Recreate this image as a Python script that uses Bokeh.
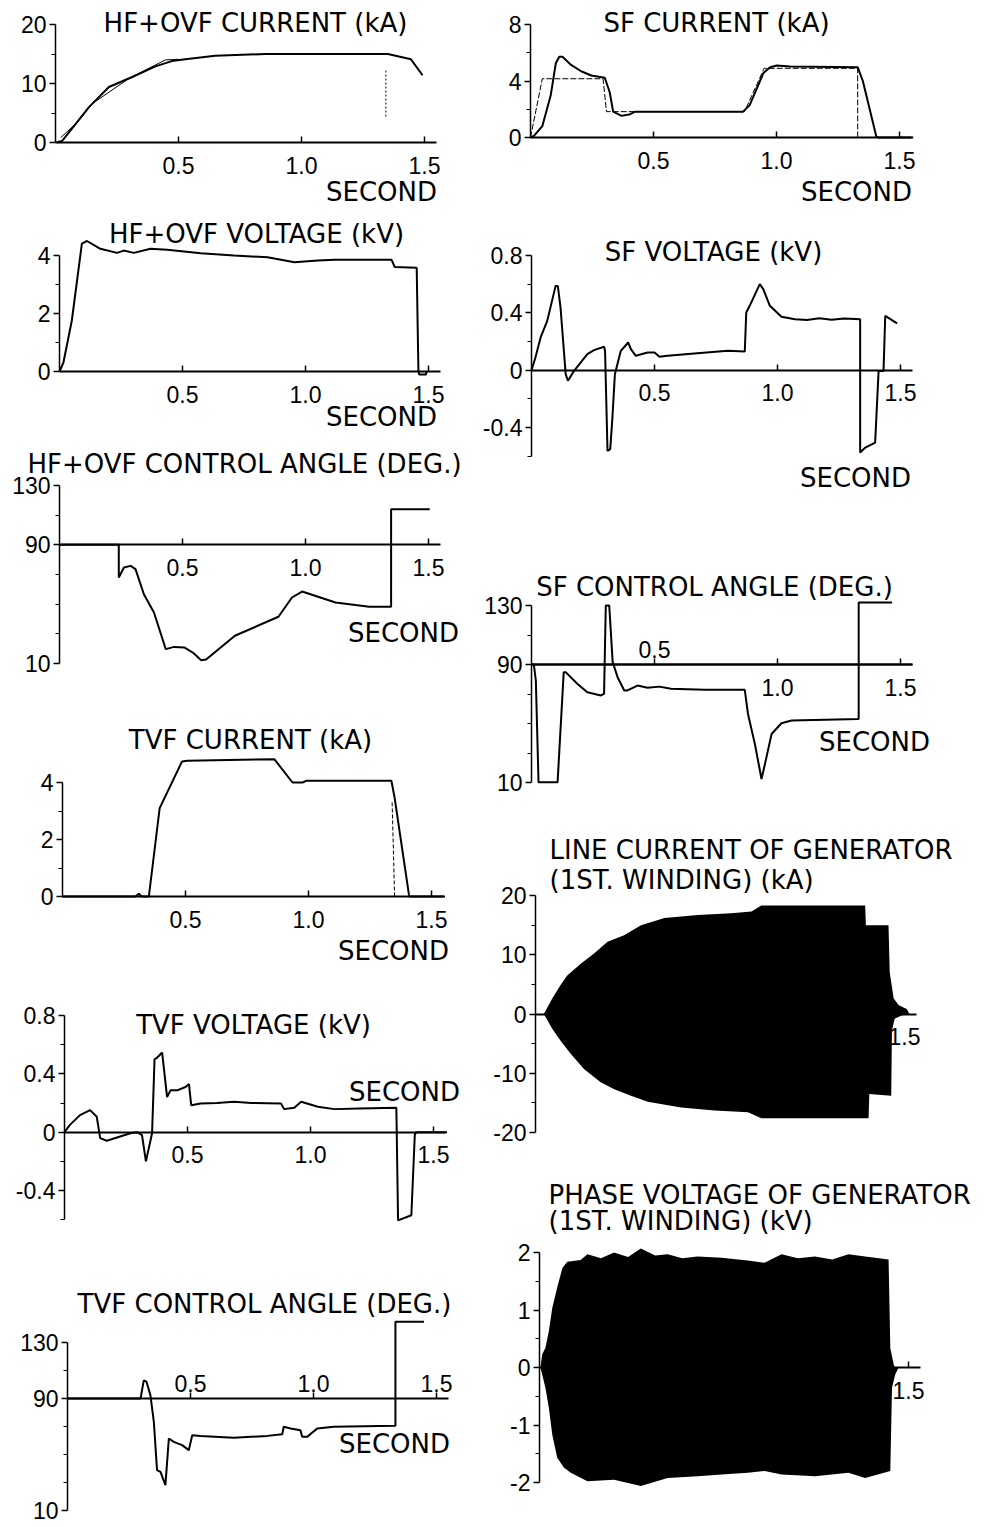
from bokeh.plotting import figure
from bokeh.layouts import row, column
from bokeh.models import Range1d, LinearAxis, FixedTicker, Label, NumeralTickFormatter
from bokeh.embed import file_html
from bokeh.resources import INLINE

# ---------------- data (time in s) ----------------
hf_current = [(0.005, 0.0), (0.028, 0.3), (0.083, 3.2), (0.136, 6.0), (0.217, 9.4), (0.312, 11.1),
              (0.406, 12.9), (0.473, 13.8), (0.528, 14.1), (0.649, 14.7), (0.852, 15.0), (1.12, 15.0),
              (1.351, 15.0), (1.445, 14.1), (1.492, 11.4)]
hf_current_ref = [(0.022, 0.86), (0.089, 3.43), (0.15, 6.6), (0.3, 10.9), (0.447, 14.0), (0.5, 14.1)]
hf_current_mark = [(1.343, 4.4), (1.343, 12.4)]

hf_voltage = [(0.0, 0.0), (0.016, 0.31), (0.05, 1.75), (0.091, 4.41), (0.112, 4.5), (0.166, 4.23),
              (0.234, 4.09), (0.261, 4.17), (0.302, 4.09), (0.37, 4.23), (0.438, 4.2), (0.574, 4.08),
              (0.71, 4.0), (0.846, 3.94), (0.955, 3.77), (1.05, 3.83), (1.118, 3.85), (1.35, 3.85),
              (1.363, 3.6), (1.452, 3.58), (1.459, 0.02), (1.462, -0.1), (1.49, -0.1), (1.492, 0.0)]

hf_angle = [(0.0, 90), (0.241, 90), (0.241, 68), (0.262, 74.7), (0.289, 75.8), (0.309, 73.6),
            (0.343, 56.7), (0.384, 44.4), (0.432, 19.7), (0.466, 21.2), (0.507, 20.8), (0.542, 17.4),
            (0.576, 12.2), (0.596, 12.7), (0.713, 28.7), (0.89, 41.5), (0.945, 54.5), (0.986, 58.5),
            (1.122, 51.1), (1.259, 48.2), (1.348, 48.2), (1.348, 114), (1.505, 114)]

tvf_current = [(0.0, 0.0), (0.297, 0.0), (0.31, 0.1), (0.322, 0.0), (0.351, 0.0), (0.395, 3.1),
               (0.486, 4.74), (0.507, 4.76), (0.861, 4.82), (0.935, 4.0), (0.976, 4.0), (0.99, 4.06),
               (1.337, 4.06), (1.35, 3.47), (1.408, 0.08), (1.411, 0.0), (1.555, 0.0)]
tvf_current_ref = [(1.34, 3.3), (1.35, 0.0)]

tvf_voltage = [(0.0, 0.0), (0.022, 0.05), (0.063, 0.117), (0.104, 0.151), (0.131, 0.106), (0.145, -0.041),
               (0.172, -0.059), (0.268, -0.007), (0.295, 0.0), (0.315, -0.02), (0.331, -0.2),
               (0.356, -0.007), (0.366, 0.5), (0.376, 0.51), (0.397, 0.546), (0.417, 0.24),
               (0.431, 0.287), (0.458, 0.287), (0.492, 0.31), (0.506, 0.33), (0.515, 0.185),
               (0.553, 0.196), (0.62, 0.2), (0.689, 0.208), (0.76, 0.2), (0.88, 0.196), (0.893, 0.158),
               (0.934, 0.167), (0.962, 0.208), (1.03, 0.174), (1.097, 0.158), (1.2, 0.162),
               (1.349, 0.167), (1.356, -0.605), (1.41, -0.57), (1.424, -0.018), (1.43, 0.0), (1.555, 0.0)]

tvf_angle = [(0.0, 90), (0.297, 90), (0.31, 103), (0.321, 102), (0.337, 92.4), (0.351, 73.3),
             (0.364, 38.8), (0.378, 37.6), (0.398, 28.1), (0.412, 61.4), (0.432, 59), (0.466, 56.7),
             (0.493, 53.1), (0.507, 63.8), (0.541, 63.3), (0.676, 61.9), (0.812, 63.3), (0.873, 64.5),
             (0.879, 69.8), (0.907, 68.6), (0.947, 67.4), (0.954, 62.6), (0.974, 62.6), (1.015, 68.6),
             (1.082, 69.8), (1.333, 70.5), (1.333, 144.8), (1.449, 144.8)]

sf_current = [(0.0, 0.0), (0.014, 0.11), (0.048, 0.8), (0.082, 2.97), (0.103, 5.26), (0.117, 5.71),
              (0.13, 5.71), (0.165, 5.14), (0.206, 4.69), (0.247, 4.39), (0.302, 4.23), (0.322, 3.2),
              (0.336, 1.83), (0.37, 1.53), (0.405, 1.65), (0.425, 1.83), (0.864, 1.83), (0.891, 2.29),
              (0.947, 4.57), (0.974, 4.98), (1.001, 5.1), (1.056, 5.03), (1.33, 4.98), (1.351, 4.0),
              (1.406, 0.05), (1.413, 0.0), (1.556, 0.0)]
sf_current_ref = [(0.0, 0.0), (0.048, 4.16), (0.295, 4.16), (0.309, 1.83), (0.87, 1.83), (0.95, 4.9),
                  (1.33, 4.9), (1.33, 0.0)]

sf_voltage = [(0.0, 0.0), (0.016, 0.088), (0.037, 0.228), (0.064, 0.344), (0.098, 0.588), (0.107, 0.588),
              (0.118, 0.437), (0.139, -0.028), (0.148, -0.074), (0.173, -0.005), (0.227, 0.112),
              (0.254, 0.14), (0.295, 0.163), (0.299, 0.135), (0.309, -0.563), (0.32, -0.551),
              (0.329, -0.33), (0.339, -0.028), (0.363, 0.135), (0.393, 0.193), (0.404, 0.147),
              (0.424, 0.1), (0.472, 0.123), (0.5, 0.123), (0.52, 0.093), (0.554, 0.1), (0.662, 0.116),
              (0.798, 0.135), (0.867, 0.13), (0.873, 0.402), (0.887, 0.449), (0.928, 0.6),
              (0.942, 0.565), (0.969, 0.449), (1.016, 0.372), (1.071, 0.356), (1.12, 0.35),
              (1.17, 0.362), (1.22, 0.352), (1.27, 0.36), (1.336, 0.356), (1.336, -0.574),
              (1.357, -0.54), (1.397, -0.505), (1.411, -0.005), (1.431, -0.005), (1.438, 0.379),
              (1.486, 0.326)]

sf_angle = [(0.0, 90), (0.0095, 90), (0.0177, 79), (0.0286, 10.1), (0.106, 10.1), (0.131, 84.8),
            (0.139, 84.8), (0.186, 76.9), (0.227, 71.2), (0.282, 69), (0.295, 70.1), (0.302, 130),
            (0.316, 130), (0.33, 91.6), (0.35, 81.4), (0.377, 72.4), (0.39, 72.4), (0.431, 75.7),
            (0.472, 74.2), (0.52, 75), (0.567, 73.5), (0.703, 72.8), (0.867, 72.8), (0.88, 56.5),
            (0.908, 36.2), (0.935, 12.4), (0.949, 22.6), (0.976, 42.9), (1.016, 50.2), (1.057, 52),
            (1.33, 53.1), (1.33, 132), (1.466, 132)]

gen_current_upper = [(0.034, 0), (0.068, 2.6), (0.102, 4.9), (0.129, 6.5), (0.184, 8.5), (0.238, 10.2),
                     (0.293, 12.2), (0.36, 13.3), (0.429, 15), (0.524, 16.2), (0.66, 16.7), (0.796, 17),
                     (0.878, 17.3), (0.918, 18.3), (1.34, 18.3), (1.343, 15), (1.435, 15), (1.44, 7),
                     (1.456, 2.6), (1.476, 1.5), (1.51, 0.8), (1.52, 0)]
gen_current_lower = [(0.034, 0), (0.068, -2.5), (0.102, -4.5), (0.143, -6.7), (0.197, -9.3),
                     (0.265, -11.5), (0.32, -12.7), (0.388, -13.8), (0.456, -14.8), (0.592, -15.8),
                     (0.728, -16.3), (0.864, -16.6), (0.918, -17.6), (1.354, -17.6), (1.357, -13.5),
                     (1.446, -13.8), (1.449, -2.8), (1.46, -0.8), (1.49, -0.2), (1.52, 0)]

gen_voltage_upper = [(0.004, 0), (0.011, 0.23), (0.024, 0.34), (0.038, 0.63), (0.052, 1.04),
                     (0.072, 1.39), (0.093, 1.73), (0.113, 1.84), (0.167, 1.87), (0.195, 1.97),
                     (0.25, 1.9), (0.303, 2.0), (0.36, 1.92), (0.412, 2.07), (0.47, 1.95), (0.521, 1.97),
                     (0.58, 1.9), (0.643, 1.93), (0.739, 1.91), (0.847, 1.86), (0.915, 1.82),
                     (0.984, 1.97), (1.05, 1.9), (1.12, 1.93), (1.19, 1.88), (1.256, 1.97),
                     (1.324, 1.93), (1.419, 1.88), (1.426, 0.34), (1.44, 0.05), (1.446, 0)]
gen_voltage_lower = [(0.004, 0), (0.024, -0.35), (0.038, -0.7), (0.052, -1.17), (0.072, -1.57),
                     (0.099, -1.74), (0.127, -1.83), (0.195, -1.98), (0.303, -1.95), (0.412, -2.06),
                     (0.521, -1.92), (0.643, -1.89), (0.739, -1.86), (0.847, -1.83), (0.915, -1.8),
                     (0.984, -1.86), (1.12, -1.89), (1.256, -1.83), (1.324, -1.92), (1.426, -1.8),
                     (1.433, -0.35), (1.446, -0.12), (1.46, 0)]

x_tick_values = [0.5, 1.0, 1.5]

# ---------------- styling / layout helpers ----------------
XS = 246.0          # px per second
X_END = 1.55
TITLE_FONT = "DejaVu Sans"
TICK_FONT = "Liberation Sans"
TITLE_SIZE = "26px"
TICK_SIZE = "23px"


def xy(pts):
    return [a for a, _ in pts], [b for _, b in pts]


def make_panel(fig_left, fig_top, fig_w, fig_h, axis_x, yref, ybounds, yticks, yminor,
               x_fixed, below_ticks, above_ticks, texts):
    """The frame fills the whole figure; both axes are drawn at fixed data locations."""
    v1, py1, v2, py2 = yref
    ys = (py1 - py2) / (v2 - v1)

    def val_y(ppy):
        return v1 + (py1 - ppy) / ys

    def val_x(ppx):
        return (ppx - axis_x) / XS

    p = figure(width=fig_w, height=fig_h,
               x_range=Range1d(val_x(fig_left), val_x(fig_left + fig_w)),
               y_range=Range1d(val_y(fig_top + fig_h), val_y(fig_top)),
               output_backend="svg", toolbar_location=None, x_axis_location=None,
               y_axis_location=None, min_border=0, min_border_left=0, min_border_right=0,
               min_border_top=0, min_border_bottom=0)
    p.outline_line_color = None
    p.background_fill_color = "white"
    p.border_fill_color = "white"
    p.grid.visible = False

    ya = LinearAxis(fixed_location=0, ticker=FixedTicker(ticks=yticks, minor_ticks=yminor),
                    bounds=ybounds, formatter=NumeralTickFormatter(format="0.[0]"),
                    axis_line_width=1.5, axis_line_color="black",
                    major_tick_out=6, major_tick_in=0, minor_tick_out=4, minor_tick_in=0,
                    major_tick_line_width=1.5, minor_tick_line_width=1.2,
                    major_label_text_font=TICK_FONT, major_label_text_font_size=TICK_SIZE,
                    major_label_text_color="black", major_label_standoff=3)
    p.add_layout(ya, "left")

    common = dict(fixed_location=x_fixed, bounds=(0, X_END),
                  formatter=NumeralTickFormatter(format="0.0"),
                  axis_line_width=1.8, axis_line_color="black", major_tick_line_width=1.5,
                  major_label_text_font=TICK_FONT, major_label_text_font_size=TICK_SIZE,
                  major_label_text_color="black")
    if below_ticks is not None:
        xa = LinearAxis(ticker=FixedTicker(ticks=below_ticks), major_tick_in=6, major_tick_out=0,
                        major_label_standoff=14, **common)
        p.add_layout(xa, "below")
    if above_ticks is not None:
        xb = LinearAxis(ticker=FixedTicker(ticks=above_ticks), major_tick_in=0, major_tick_out=6,
                        major_label_standoff=1, **common)
        p.add_layout(xb, "above")

    for text, px, ppy, align in texts:
        p.add_layout(Label(x=val_x(px), y=val_y(ppy), text=text,
                           text_font=TITLE_FONT, text_font_size=TITLE_SIZE, text_color="black",
                           text_align=align, text_baseline="middle"))
    return p


def curve(p, pts, width=2.0, dash="solid"):
    t, v = xy(pts)
    p.line(t, v, line_color="black", line_width=width, line_dash=dash)


# ---------------- left column (screen coordinates of the picture) ----------------
L, LW = 0, 470
p1 = make_panel(L, 0, LW, 212, 55, (0, 142, 20, 24), (0, 20), [0, 10, 20], [5, 15],
                0, x_tick_values, None,
                [("HF+OVF CURRENT (kA)", 255, 22, "center"), ("SECOND", 381, 191, "center")])
curve(p1, hf_current)
curve(p1, hf_current_ref, width=1.0)
curve(p1, hf_current_mark, width=1.0, dash="2 2")

p2 = make_panel(L, 212, LW, 230, 59, (0, 371, 4, 255), (0, 4), [0, 2, 4], [1, 3],
                0, x_tick_values, None,
                [("HF+OVF VOLTAGE (kV)", 256, 233, "center"), ("SECOND", 381, 416, "center")])
curve(p2, hf_voltage)

p3 = make_panel(L, 442, LW, 270, 59, (10, 663, 130, 485), (10, 130), [10, 90, 130],
                [30, 50, 70, 110], 90, x_tick_values, None,
                [("HF+OVF CONTROL ANGLE (DEG.)", 244, 463, "center"), ("SECOND", 403, 632, "center")])
curve(p3, hf_angle)

p4 = make_panel(L, 712, LW, 273, 62, (0, 896, 4, 782), (0, 4), [0, 2, 4], [1, 3],
                0, x_tick_values, None,
                [("TVF CURRENT (kA)", 250, 739, "center"), ("SECOND", 393, 950, "center")])
curve(p4, tvf_current)
curve(p4, tvf_current_ref, width=1.0, dash="4 2")

p5 = make_panel(L, 985, LW, 283, 64, (-0.4, 1190, 0.8, 1015), (-0.6, 0.8), [-0.4, 0, 0.4, 0.8],
                [-0.6, -0.2, 0.2, 0.6], 0, x_tick_values, None,
                [("TVF VOLTAGE (kV)", 253, 1024, "center"), ("SECOND", 404, 1091, "center")])
curve(p5, tvf_voltage)

p6 = make_panel(L, 1268, LW, 257, 67, (10, 1510, 130, 1342), (10, 130), [10, 90, 130],
                [30, 50, 70, 110], 90, None, x_tick_values,
                [("TVF CONTROL ANGLE (DEG.)", 264, 1303, "center"), ("SECOND", 394, 1443, "center")])
curve(p6, tvf_angle)

# ---------------- right column ----------------
R, RW = 470, 528
p7 = make_panel(R, 0, RW, 212, 530, (0, 137, 8, 24), (0, 8), [0, 4, 8], [2, 6],
                0, x_tick_values, None,
                [("SF CURRENT (kA)", 716, 22, "center"), ("SECOND", 856, 191, "center")])
curve(p7, sf_current_ref, width=1.0, dash="6 2")
curve(p7, sf_current)

p8 = make_panel(R, 212, RW, 288, 531, (-0.4, 427, 0.8, 255), (-0.6, 0.8), [-0.4, 0, 0.4, 0.8],
                [-0.6, -0.2, 0.2, 0.6], 0, x_tick_values, None,
                [("SF VOLTAGE (kV)", 713, 251, "center"), ("SECOND", 855, 477, "center")])
curve(p8, sf_voltage)

p9 = make_panel(R, 500, RW, 300, 531, (10, 782, 130, 605), (10, 130), [10, 90, 130],
                [30, 50, 70, 110], 90, [1.0, 1.5], [0.5],
                [("SF CONTROL ANGLE (DEG.)", 714, 586, "center"), ("SECOND", 874, 741, "center")])
curve(p9, sf_angle)

p10 = make_panel(R, 800, RW, 350, 535, (-20, 1132, 20, 895), (-20, 20), [-20, -10, 0, 10, 20],
                 [-15, -5, 5, 15], 0, [1.5], None,
                 [("LINE CURRENT OF GENERATOR", 549, 849, "left"),
                  ("(1ST. WINDING) (kA)", 549, 879, "left")])
tu, vu = xy(gen_current_upper)
tl, vl = xy(gen_current_lower)
p10.varea(x=tu, y1=0, y2=vu, fill_color="black")
p10.varea(x=tl, y1=0, y2=vl, fill_color="black")

p11 = make_panel(R, 1150, RW, 375, 539, (-2, 1482, 2, 1252), (-2, 2), [-2, -1, 0, 1, 2],
                 [-1.5, -0.5, 0.5, 1.5], 0, [1.5], None,
                 [("PHASE VOLTAGE OF GENERATOR", 548, 1194, "left"),
                  ("(1ST. WINDING) (kV)", 548, 1220, "left")])
tu, vu = xy(gen_voltage_upper)
tl, vl = xy(gen_voltage_lower)
p11.varea(x=tu, y1=0, y2=vu, fill_color="black")
p11.varea(x=tl, y1=0, y2=vl, fill_color="black")

layout = row(column(p1, p2, p3, p4, p5, p6, spacing=0), column(p7, p8, p9, p10, p11, spacing=0),
             spacing=0)
open("out.html", "w").write(file_html(layout, INLINE))
